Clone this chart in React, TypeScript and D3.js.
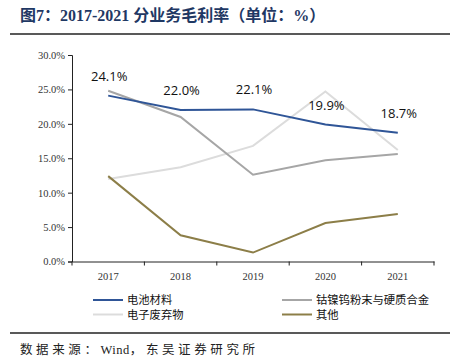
import React, { useEffect, useRef } from 'react';
import * as d3 from 'd3';

const years = ['2017', '2018', '2019', '2020', '2021'];
const seriesNames = ['电池材料', '钴镍钨粉末与硬质合金', '电子废弃物', '其他'];
const battery = [24.1, 22.0, 22.1, 19.9, 18.7];
const cobalt = [24.8, 21.0, 12.6, 14.7, 15.6];
const ewaste = [12.0, 13.7, 16.8, 24.7, 16.2];
const others = [12.4, 3.8, 1.3, 5.6, 6.9];
const yTicks = [0, 5, 10, 15, 20, 25, 30];
const colors = ['#2F5597', '#A6A6A6', '#DCDCDC', '#8C7E48'];

const App = () => {
  const ref = useRef<SVGSVGElement>(null);

  useEffect(() => {
    const width = 450;
    const height = 363;
    const svg = d3.select(ref.current);
    svg.selectAll('*').remove();
    svg.attr('width', width).attr('height', height);

    const serif = '"Liberation Serif", "Times New Roman", "Noto Sans CJK SC", serif';
    const sans = '"Noto Sans CJK SC", "Noto Sans", sans-serif';

    // Title and rules
    svg.append('text')
      .attr('x', 20).attr('y', 21)
      .attr('font-family', serif).attr('font-weight', 'bold')
      .attr('font-size', 16).attr('fill', '#1F3864')
      .text('图7：2017-2021 分业务毛利率（单位：%）');
    svg.append('line').attr('x1', 10).attr('x2', 450).attr('y1', 34).attr('y2', 34)
      .attr('stroke', '#222').attr('stroke-width', 1.5);
    svg.append('line').attr('x1', 10).attr('x2', 450).attr('y1', 333).attr('y2', 333)
      .attr('stroke', '#222').attr('stroke-width', 1.5);
    const src = svg.append('text')
      .attr('x', 20).attr('y', 354)
      .attr('font-family', serif).attr('font-size', 12.5).attr('fill', '#222');
    src.append('tspan').attr('letter-spacing', 3.6).text('数据来源：');
    src.append('tspan').attr('letter-spacing', 0.5).text('Wind');
    src.append('tspan').attr('letter-spacing', 3.6).text('，东吴证券研究所');

    // Scales
    const x = d3.scaleBand().domain(years).range([72, 434]);
    const y = d3.scaleLinear().domain([0, 30]).range([261.5, 55]);

    // Y axis
    const yAxis = svg.append('g')
      .attr('transform', 'translate(72,0)')
      .call(d3.axisLeft(y).tickValues(yTicks).tickSize(4).tickFormat((d) => `${(+d).toFixed(1)}%`));
    yAxis.selectAll('text').attr('font-family', serif).attr('font-size', 10.5).attr('fill', '#333');
    yAxis.selectAll('path,line').attr('stroke', '#222');

    // X axis
    const xAxis = svg.append('g')
      .attr('transform', 'translate(0,261.5)')
      .call(d3.axisBottom(x).tickSize(0).tickPadding(11));
    xAxis.select('.domain').attr('stroke', '#222');
    xAxis.selectAll('text').attr('font-family', serif).attr('font-size', 10.5).attr('fill', '#333');
    const bounds = years.map((d) => x(d) as number).concat([434]);
    xAxis.selectAll('line.bt').data(bounds).enter().append('line')
      .attr('x1', (d) => d).attr('x2', (d) => d).attr('y1', 0).attr('y2', 4)
      .attr('stroke', '#222');

    // Lines
    const cx = (i: number) => (x(years[i]) as number) + x.bandwidth() / 2;
    const line = d3.line<number>().x((d, i) => cx(i)).y((d) => y(d));
    const allSeries = [battery, cobalt, ewaste, others];
    const drawOrder = [2, 1, 3, 0];
    drawOrder.forEach((k) => {
      svg.append('path')
        .datum(allSeries[k])
        .attr('d', line)
        .attr('fill', 'none')
        .attr('stroke', colors[k])
        .attr('stroke-width', 2);
    });

    // Labels for battery series
    svg.selectAll('text.lbl').data(battery).enter().append('text')
      .attr('x', (d, i) => cx(i) + 1)
      .attr('y', (d) => y(d) - 15)
      .attr('text-anchor', 'middle')
      .attr('font-family', '"Open Sans", "Noto Sans", sans-serif')
      .attr('font-size', 13).attr('fill', '#111')
      .text((d) => `${d.toFixed(1)}%`);

    // Legend
    const legendPos = [
      [93, 300], [282, 300], [93, 314.5], [282, 314.5],
    ];
    seriesNames.forEach((name, i) => {
      const [lx, ly] = legendPos[i];
      svg.append('line').attr('x1', lx).attr('x2', lx + 30).attr('y1', ly).attr('y2', ly)
        .attr('stroke', colors[i]).attr('stroke-width', 2);
      svg.append('text').attr('x', lx + 34).attr('y', ly + 4)
        .attr('font-family', sans).attr('font-size', 11.3).attr('fill', '#111')
        .text(name);
    });
  }, []);

  return <svg ref={ref} style={{ position: 'absolute', left: 0, top: 0, display: 'block' }} />;
};

export default App;
